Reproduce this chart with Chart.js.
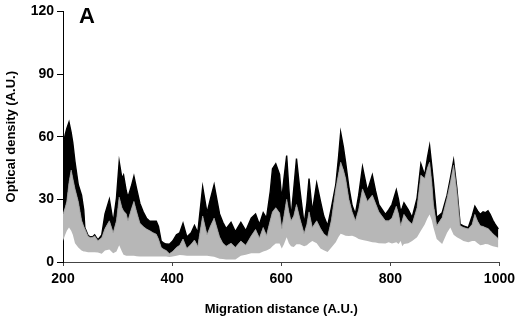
<!DOCTYPE html>
<html>
<head>
<meta charset="utf-8">
<script src="https://cdn.jsdelivr.net/npm/chart.js@4/dist/chart.umd.min.js"></script>
<style>
html,body{margin:0;padding:0;background:#fff;}
#wrap{position:relative;width:520px;height:324px;}
</style>
</head>
<body>
<div id="wrap"><canvas id="c" width="520" height="324"></canvas></div>
<script>
// Migration distance (A.U.)
const distance = [200,204,207,211,215,218,222,228,234,238,240,246,250,255,258,264,271,277,285,292,298,303,308,311,316,319,325,330,335,341,347,353,359,365,371,375,380,385,389,395,401,408,414,420,427,435,441,447,456,464,470,477,487,493,499,508,516,526,535,545,553,560,567,573,580,584,590,597,601,605,610,614,618,623,628,634,642,647,651,657,665,672,678,685,692,700,705,709,714,718,724,730,736,742,749,758,767,773,779,791,797,803,811,815,819,822,825,833,840,849,856,863,868,872,876,879,885,895,904,910,916,922,928,934,943,950,955,960,965,970,974,979,983,988,992,998];
// upper edge of black band
const upper = [56,61,64,67,62,57,48,37,32,25,16.5,12.7,12,12.2,13,10.6,13,23,30,19,30.6,48,40,41.6,34,31,36,41,35,28,24,21,19.5,19.5,19.5,17,10,9,8.6,8.5,10,13,14,18.5,12,14,17.5,14,36,23.5,30,37,23,19,16,19,14.5,19,15,21,23,18,23.6,21,34,44.7,47,42,30,40,51,35,21,35,49.5,35,18,28,40,24,37.7,29,22,17.3,26,37,50,62,55,47.8,36,27,23,32,45.5,34,41.6,34,27.5,22.8,25,27.5,34.5,30,24,26,28.3,25,21.3,30.6,47,41.6,50,55.6,46,38.4,21.3,23.6,32,40,48.6,35.3,18.1,17.3,16.5,22,26.7,24.5,22.8,24,23.6,24.5,22.8,20,18.1,15.8];
// boundary between black and grey bands
const middle = [23,26,29,38,44,40,35,29,20,17,16,12.3,11.7,11.9,12.5,10.2,11.6,16,19.7,14,19.7,31,26,24.4,23,19.7,25,29,24,18.5,17,15.8,15,14,13.3,11,7,6,5.5,4,5,7,8,11,6.5,8.5,10.5,7.5,22,13,17,21,12,9,7.5,9,7,10,8,12.5,15.6,11.5,16.5,12.7,20,24,26,23.5,16,22,30,24,19.7,22,27.5,21,13.6,18,24,16.5,19.7,16,13.5,12,20,35,42,47.8,44,40,30,24,19.7,25,35,29,32,28,24,19.7,19.7,21,26.7,23,17.3,20,22.8,19.7,18.1,26,41.6,40,45,47.8,38,27.5,17.3,21.3,30.6,38,46.3,33.8,17.3,16.5,15.8,18,22.8,19.5,17.3,17,16.5,16,15,13.5,12.6,11.1];
// lower edge of grey band
const lower = [10,13,15,16.5,15,13,9,7,5.5,5,5,4.7,4.7,4.7,4.7,4.5,4,5.5,6,4.2,5,8,5,3.5,3,3,3,3,2.8,2.6,2.6,2.6,2.6,2.6,2.6,2.6,2.6,2.6,2.6,2.4,2.6,3,3.4,3.2,3,3,3,3,3,3,2.8,2.5,1.6,1.4,1.2,1.2,1.2,3,3.5,4.2,4.2,4.2,5,5.5,6.5,7.5,8.9,8.8,6.5,8.5,11.9,9,7.5,7.2,8.5,8.5,7.5,8,9,10,9,6.5,5.6,4.8,7,9.5,12,13.5,13,12.6,12.5,12.6,12,11,10.5,10,9.5,9.3,9,8.9,9.5,8.8,9.5,8.6,10,7.5,8.6,9,10,11.9,15,18,21,22.8,20,16.5,11,8.6,14,16.5,13,11.9,11,10,9.5,10,10,9,8,8.3,8.6,8.5,8,7.5,7.3,7];
const yTicks = [0,30,60,90,120];
const xTicks = [200,400,600,800,1000];

const FONT = "'Liberation Sans', Arial, Helvetica, sans-serif";
const pts = arr => distance.map((x,i)=>({x:x, y:arr[i]}));

const panelLabel = {
  id:'panelLabel',
  afterDraw(chart){
    const ctx = chart.ctx;
    ctx.save();
    ctx.fillStyle = '#000';
    ctx.font = 'bold 22px ' + FONT;
    ctx.textBaseline = 'alphabetic';
    ctx.textAlign = 'left';
    ctx.fillText('A', 79, 23);
    ctx.restore();
  }
};

new Chart(document.getElementById('c'), {
  type:'line',
  data:{
    datasets:[
      {label:'lower', data:pts(lower), borderWidth:0, borderColor:'rgba(0,0,0,0)', pointRadius:0, fill:false, tension:0},
      {label:'middle', data:pts(middle), borderWidth:0.8, borderColor:'#9a9a9a', backgroundColor:'#b7b7b7', pointRadius:0, fill:'-1', tension:0},
      {label:'upper', data:pts(upper), borderWidth:1.4, borderColor:'#000', backgroundColor:'#000', pointRadius:0, fill:'-1', tension:0}
    ]
  },
  options:{
    responsive:false,
    animation:false,
    layout:{padding:{left:0,right:0,top:0,bottom:0}},
    plugins:{legend:{display:false}, tooltip:{enabled:false}},
    scales:{
      x:{
        type:'linear', min:200, max:1000,
        afterBuildTicks(s){ s.ticks = xTicks.map(v=>({value:v})); },
        afterFit(s){ s.height = 62; },
        grid:{display:true, drawOnChartArea:false, drawTicks:true, tickLength:4, color:'#444', lineWidth:1},
        border:{display:true, color:'#444', width:1},
        ticks:{color:'#000', font:{family:FONT, size:14, weight:'bold'}, padding:5, maxRotation:0, autoSkip:false, callback:v=>String(v)},
        title:{display:true, text:'Migration distance (A.U.)', color:'#000', font:{family:FONT, size:13, weight:'bold'}, padding:{top:0,bottom:7}}
      },
      y:{
        type:'linear', min:0, max:120,
        afterBuildTicks(s){ s.ticks = yTicks.map(v=>({value:v})); },
        afterFit(s){ s.width = 63; },
        grid:{display:true, drawOnChartArea:false, drawTicks:true, tickLength:6, color:'#000', lineWidth:1},
        border:{display:true, color:'#000', width:1},
        ticks:{color:'#000', font:{family:FONT, size:14, weight:'bold'}, padding:3, callback:v=>String(v)},
        title:{display:true, text:'Optical density (A.U.)', color:'#000', font:{family:FONT, size:13, weight:'bold'}, padding:{top:4,bottom:0}}
      }
    }
  },
  plugins:[panelLabel]
});
</script>
</body>
</html>
